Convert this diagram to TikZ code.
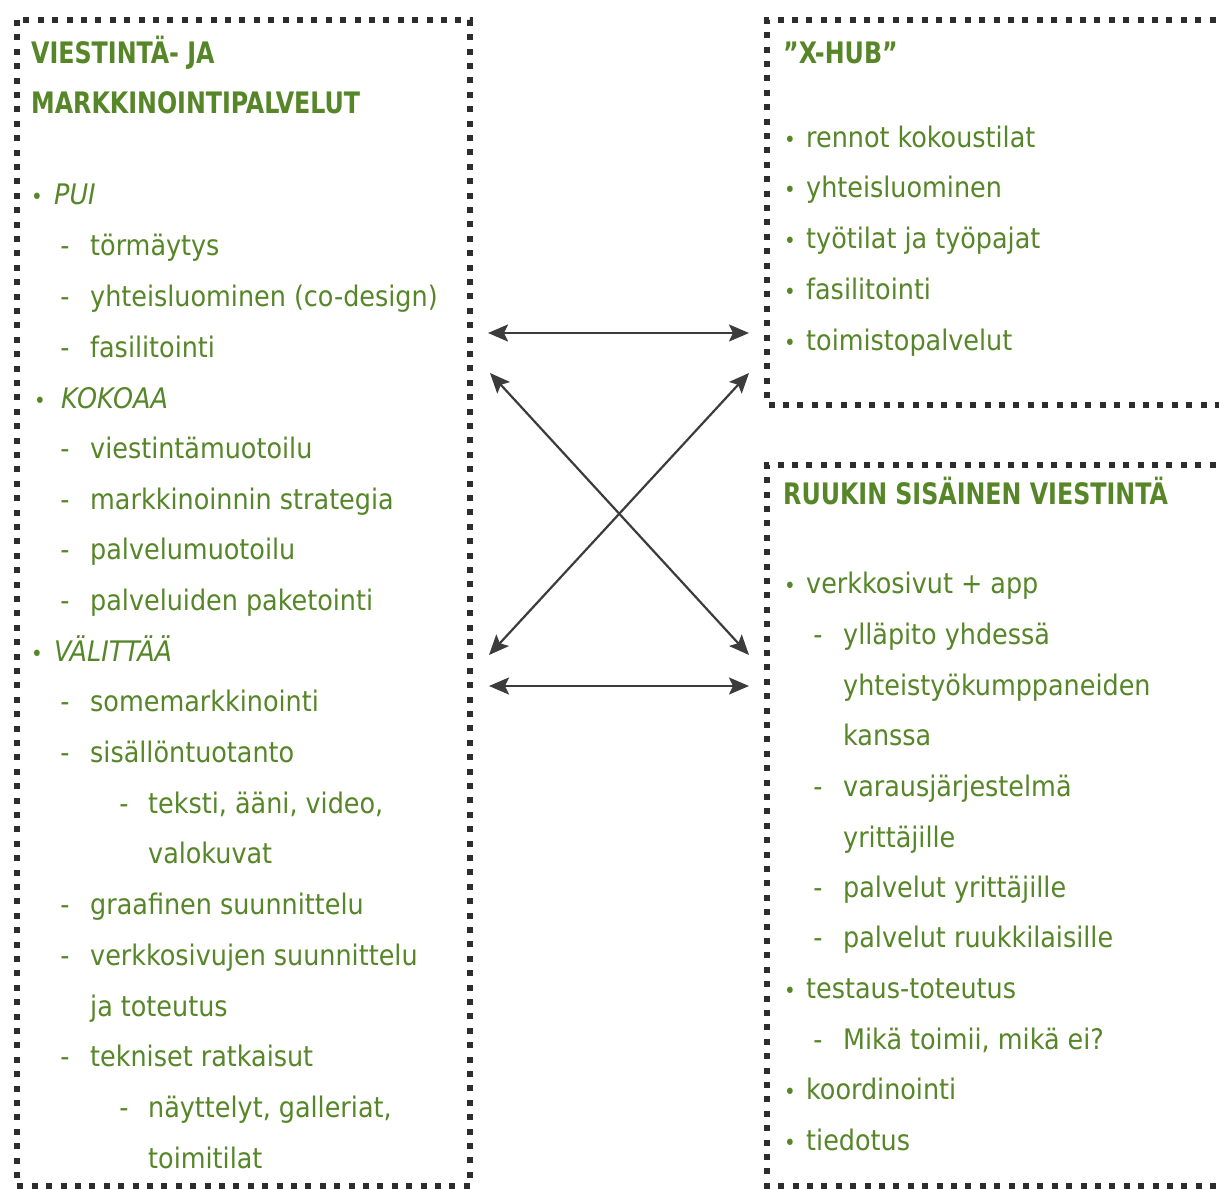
\documentclass[tikz,border=0pt]{standalone}
\usepackage{fontspec}
\setmainfont{DejaVu Sans Condensed}
\usetikzlibrary{arrows.meta}
\definecolor{txtgreen}{RGB}{86,134,40}
\definecolor{bord}{RGB}{45,45,45}
\definecolor{arrgray}{RGB}{60,60,60}
\tikzset{
  txt/.style={anchor=base west, inner sep=0pt, text=txtgreen, font=\fontsize{28.3}{32}\selectfont},
  itxt/.style={txt, font=\fontsize{28.3}{32}\selectfont\itshape},
  hdr/.style={txt, font=\fontsize{26.4}{32}\selectfont\bfseries},
  mk/.style={anchor=base, inner sep=0pt, text=txtgreen, font=\fontsize{28.3}{32}\selectfont},
  bl/.style={anchor=base, inner sep=0pt, text=txtgreen, font=\fontsize{22}{32}\selectfont},
  dotborder/.style={draw=bord, line width=6pt, dash pattern=on 6pt off 8.4pt},
  link/.style={draw=arrgray, line width=2.2pt,
    {Stealth[length=20pt,width=17pt,inset=4pt]}-{Stealth[length=20pt,width=17pt,inset=4pt]}}
}
\newcommand\Rw[6]{\node[mk] (#1m) at (#2,#4) {#5}; \node[txt] (#1) at (#3,#4) {#6};}
\newcommand\Bw[5]{\node[bl] (#1m) at (#2,#4) {•}; \node[txt] (#1) at (#3,#4) {#5};}
\newcommand\Ct[4]{\node[txt] (#1) at (#2,#3) {#4};}
\newcommand\Hd[1]{\scalebox{1}[1.12]{#1}}
\begin{document}
\begin{tikzpicture}[x=1pt,y=-1pt]
\useasboundingbox[fill=white] (0,0) rectangle (1219,1189);
% box borders
\draw[dotborder] (17,20) rectangle (470,1186);
\draw[dotborder] (1230,20) -- (767,20) -- (767,405) -- (1230,405);
\draw[dotborder] (1230,465) -- (767,465) -- (767,1186) -- (1230,1186);

% left box
\node[hdr] (h1) at (31,63) {\Hd{VIESTINTÄ- JA}};
\node[hdr] (h2) at (31,113) {\Hd{MARKKINOINTIPALVELUT}};
\node[bl] (pm) at (37,204) {•}; \node[itxt] (pui) at (54,204) {PUI};
\Rw{l1}{65}{90}{255}{-}{törmäytys}
\Rw{l2}{65}{90}{306}{-}{yhteisluominen (co-design)}
\Rw{l3}{65}{90}{357}{-}{fasilitointi}
\node[bl] (km) at (40,408) {•}; \node[itxt] (kok) at (61,408) {KOKOAA};
\Rw{l4}{65}{90}{458}{-}{viestintämuotoilu}
\Rw{l5}{65}{90}{509}{-}{markkinoinnin strategia}
\Rw{l6}{65}{90}{559}{-}{palvelumuotoilu}
\Rw{l7}{65}{90}{610}{-}{palveluiden paketointi}
\node[bl] (vm) at (37,661) {•}; \node[itxt] (val) at (54,661) {VÄLITTÄÄ};
\Rw{l8}{65}{90}{711}{-}{somemarkkinointi}
\Rw{l9}{65}{90}{762}{-}{sisällöntuotanto}
\Rw{l10}{124}{148}{813}{-}{teksti, ääni, video,}
\Ct{l11}{148}{863}{valokuvat}
\Rw{l12}{65}{90}{914}{-}{graafinen suunnittelu}
\Rw{l13}{65}{90}{965}{-}{verkkosivujen suunnittelu}
\Ct{l14}{90}{1016}{ja toteutus}
\Rw{l15}{65}{90}{1066}{-}{tekniset ratkaisut}
\Rw{l16}{124}{148}{1117}{-}{näyttelyt, galleriat,}
\Ct{l17}{148}{1168}{toimitilat}

% right top box
\node[hdr] (h3) at (783,63) {\Hd{”X-HUB”}};
\Bw{r1}{790}{806}{147}{rennot kokoustilat}
\Bw{r2}{790}{806}{197}{yhteisluominen}
\Bw{r3}{790}{806}{248}{työtilat ja työpajat}
\Bw{r4}{790}{806}{299}{fasilitointi}
\Bw{r5}{790}{806}{350}{toimistopalvelut}

% right bottom box
\node[hdr] (h4) at (783,504) {\Hd{RUUKIN SISÄINEN VIESTINTÄ}};
\Bw{s1}{790}{806}{593}{verkkosivut + app}
\Rw{s2}{818}{843}{644}{-}{ylläpito yhdessä}
\Ct{s3}{843}{695}{yhteistyökumppaneiden}
\Ct{s4}{843}{745}{kanssa}
\Rw{s5}{818}{843}{796}{-}{varausjärjestelmä}
\Ct{s6}{843}{847}{yrittäjille}
\Rw{s7}{818}{843}{897}{-}{palvelut yrittäjille}
\Rw{s8}{818}{843}{947}{-}{palvelut ruukkilaisille}
\Bw{s9}{790}{806}{998}{testaus-toteutus}
\Rw{s10}{818}{843}{1049}{-}{Mikä toimii, mikä ei?}
\Bw{s11}{790}{806}{1099}{koordinointi}
\Bw{s12}{790}{806}{1150}{tiedotus}

% arrows
\coordinate (a1) at (488,333); \coordinate (b1) at (749,333);
\coordinate (a2) at (490,373); \coordinate (b2) at (749,655);
\coordinate (a3) at (749,373); \coordinate (b3) at (489,655);
\coordinate (a4) at (489,686); \coordinate (b4) at (749,686);
\draw[link] (a1) -- (b1);
\draw[link] (a2) -- (b2);
\draw[link] (a3) -- (b3);
\draw[link] (a4) -- (b4);
\end{tikzpicture}
\end{document}
